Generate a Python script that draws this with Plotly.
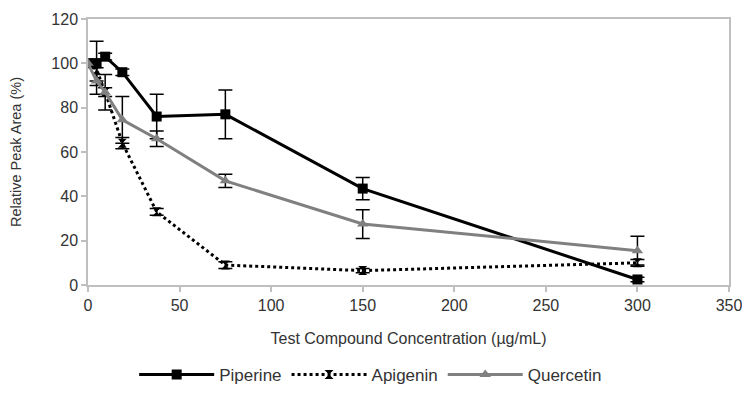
import plotly.graph_objects as go

conc = [0, 4.69, 9.375, 18.75, 37.5, 75, 150, 300]

piperine = [100, 100, 103, 96, 76, 77, 43.5, 2.5]
piperine_err = [0.8, 10, 1.5, 1.5, 10, 11, 5, 1]

apigenin = [100, 97, 87, 64, 33, 9, 6.5, 10]
apigenin_err = [0.8, 5, 2, 2.5, 1.5, 1.5, 1, 1.5]

quercetin = [100, 92, 87, 74.5, 66, 47, 27.5, 15.5]
quercetin_err = [0.8, 6, 8, 10.5, 3.5, 3, 6.5, 6.5]

x_ticks = [0, 50, 100, 150, 200, 250, 300, 350]
y_ticks = [0, 20, 40, 60, 80, 100, 120]

fig = go.Figure()

def err(vals):
    return dict(type="data", array=vals, visible=True, color="black",
                thickness=1.5, width=7)

fig.add_trace(go.Scatter(
    x=conc, y=piperine, name="Piperine", mode="lines+markers",
    line=dict(color="black", width=3),
    marker=dict(symbol="square", size=10, color="black"),
    error_y=err(piperine_err)))

fig.add_trace(go.Scatter(
    x=conc, y=apigenin, name="Apigenin", mode="lines+markers",
    line=dict(color="black", width=3, dash="dot"),
    marker=dict(symbol="hourglass", size=9, color="black"),
    error_y=err(apigenin_err)))

fig.add_trace(go.Scatter(
    x=conc, y=quercetin, name="Quercetin", mode="lines+markers",
    line=dict(color="#808080", width=3),
    marker=dict(symbol="triangle-up", size=10, color="#808080"),
    error_y=err(quercetin_err)))

font_family = "Liberation Sans, Arial, sans-serif"
axis_col = "#BFBFBF"

fig.update_layout(
    width=742, height=396,
    margin=dict(l=80, r=21, t=11, b=119, autoexpand=False),
    paper_bgcolor="white", plot_bgcolor="white",
    font=dict(family=font_family, size=16, color="#333333"),
    showlegend=True,
    legend=dict(orientation="h", x=0.441, xanchor="center", y=-0.338,
                yanchor="middle", font=dict(size=17, color="#333333"),
                itemwidth=75),
    xaxis=dict(
        range=[0, 350], tickvals=x_ticks, ticktext=[str(v) for v in x_ticks],
        showgrid=False, zeroline=False, automargin=False,
        showline=True, linecolor=axis_col, linewidth=1.5, mirror=True,
        ticks="outside", ticklen=5, tickcolor=axis_col, tickwidth=1.5,
        title=dict(text="Test Compound Concentration (µg/mL)",
                   font=dict(size=16), standoff=20),
        tickfont=dict(size=16)),
    yaxis=dict(
        range=[0, 120], tickvals=y_ticks, ticktext=[str(v) for v in y_ticks],
        showgrid=False, zeroline=False, automargin=False,
        showline=True, linecolor=axis_col, linewidth=1.5, mirror=True,
        ticks="outside", ticklen=5, tickcolor=axis_col, tickwidth=1.5,
        title=dict(text="Relative Peak Area (%)", font=dict(size=14.5),
                   standoff=26),
        tickfont=dict(size=16)),
)

fig.write_html("out.html")
